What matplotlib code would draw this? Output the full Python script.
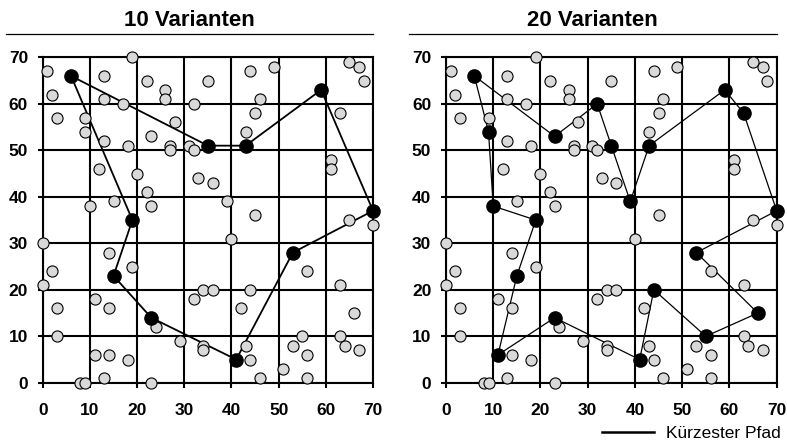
import matplotlib.pyplot as plt
from matplotlib.lines import Line2D

plt.rcParams['font.family'] = ['Liberation Sans', 'DejaVu Sans']

city_x = [19, 1, 6, 13, 22, 26, 26, 2, 13, 17, 32, 3, 9, 9, 28, 13, 18, 23, 27, 27,
          31, 32, 35, 43, 43, 49, 44, 35, 59, 46, 45, 63, 65, 67, 68, 61, 61,
          12, 20, 22, 23, 10, 15, 19, 33, 36, 39, 45, 40, 65, 70, 70, 53, 56, 63,
          0, 14, 19, 2, 15, 0, 11, 14, 3, 23, 24, 29, 3, 11, 14, 18, 13, 8, 9, 23,
          34, 36, 44, 32, 42, 34, 34, 43, 44, 41, 46, 55, 53, 56, 51, 56, 66, 63, 64, 67]
city_y = [70, 67, 66, 66, 65, 63, 61, 62, 61, 60, 60, 57, 57, 54, 56, 52, 51, 53, 51, 50,
          51, 50, 51, 51, 54, 68, 67, 65, 63, 61, 58, 58, 69, 68, 65, 48, 46,
          46, 45, 41, 38, 38, 39, 35, 44, 43, 39, 36, 31, 35, 37, 34, 28, 24, 21,
          30, 28, 25, 24, 23, 21, 18, 16, 16, 14, 12, 9, 10, 6, 6, 5, 1, 0, 0, 0,
          20, 20, 20, 18, 16, 8, 7, 8, 5, 5, 1, 10, 8, 6, 3, 1, 15, 10, 8, 7]

# kürzeste Pfade
tour10_x = [6, 35, 43, 59, 70, 53, 41, 23, 15, 19]
tour10_y = [66, 51, 51, 63, 37, 28, 5, 14, 23, 35]
tour20_x = [6, 23, 32, 35, 39, 43, 59, 63, 70, 53, 66, 55, 44, 41, 23, 11, 15, 19, 10, 9]
tour20_y = [66, 53, 60, 51, 39, 51, 63, 58, 37, 28, 15, 10, 20, 5, 14, 6, 23, 35, 38, 54]

titles = ['10 Varianten', '20 Varianten']
ticks = [0, 10, 20, 30, 40, 50, 60, 70]

fig = plt.figure(figsize=(7.87, 4.41), dpi=100)
ax1 = fig.add_axes([0.0543, 0.132, 0.4197, 0.738])
ax2 = fig.add_axes([0.5667, 0.132, 0.4202, 0.738])

panels = [(ax1, tour10_x, tour10_y, 1.3), (ax2, tour20_x, tour20_y, 0.9)]
for i, (ax, tx, ty, lw) in enumerate(panels):
    tour = set(zip(tx, ty))
    gx = [x for x, y in zip(city_x, city_y) if (x, y) not in tour]
    gy = [y for x, y in zip(city_x, city_y) if (x, y) not in tour]

    ax.plot(tx + tx[:1], ty + ty[:1], color='black', lw=lw, zorder=3, clip_on=False)
    ax.plot(gx, gy, 'o', ms=8, mfc='#d9d9d9', mec='black', mew=0.8, zorder=4, clip_on=False)
    ax.plot(tx, ty, 'o', ms=9.5, color='black', zorder=5, clip_on=False)

    ax.set_xlim(0, 70)
    ax.set_ylim(0, 70)
    ax.set_xticks(ticks)
    ax.set_yticks(ticks)
    ax.grid(True, color='black', lw=1.5)
    ax.set_axisbelow(True)
    for s in ax.spines.values():
        s.set_linewidth(1.5)
    ax.tick_params(direction='out', length=3.6, width=1.5, labelsize=12.5)
    ax.tick_params(axis='x', pad=11)
    ax.tick_params(axis='y', pad=7)
    for lab in ax.get_xticklabels() + ax.get_yticklabels():
        lab.set_fontweight('bold')

    # Überschrift mit Linie darunter
    ax.text(0.444, 1.1146, titles[i], transform=ax.transAxes, ha='center', va='center',
            fontsize=16, fontweight='bold')
    ax.plot([-0.111, 1.0], [1.0716, 1.0716], transform=ax.transAxes, color='black',
            lw=0.9, clip_on=False)

handle = Line2D([], [], color='black', lw=1.8)
fig.legend(handles=[handle], labels=['Kürzester Pfad'], loc='center left',
           bbox_to_anchor=(601.7 / 787, 1 - 433 / 441), frameon=False, fontsize=12.5,
           handlelength=3.0, handletextpad=0.7, borderpad=0, borderaxespad=0)

fig.savefig('out.png', dpi=100)
